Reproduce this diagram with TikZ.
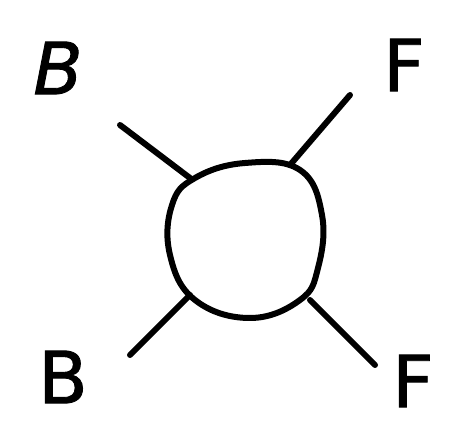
\documentclass[tikz,border=0pt]{standalone}
\usepackage{fontspec}
\setmainfont{DejaVu Sans}[FakeBold=1.2]
\tikzset{
  stroke/.style={line width=6pt, line cap=round, line join=round, black},
  lbl/.style={font=\fontsize{72}{72}\selectfont, inner sep=0pt}
}
\begin{document}
\begin{tikzpicture}[x=1pt,y=-1pt]
\useasboundingbox (0,0) rectangle (458,427);
% blob (vertex)
\draw[stroke] plot[smooth cycle, tension=0.7] coordinates {
  (195,178) (245,163) (300,170) (322,215) (318,268) (300,300) (250,318) (195,300) (170,255) (172,205)};
% legs
\coordinate (tlA) at (120,125); \coordinate (tlB) at (190,178);
\coordinate (trA) at (350,95);  \coordinate (trB) at (290,165);
\coordinate (blA) at (130,355); \coordinate (blB) at (190,295);
\coordinate (brA) at (375,365); \coordinate (brB) at (310,300);
\draw[stroke] (tlA) -- (tlB);
\draw[stroke] (trA) -- (trB);
\draw[stroke] (blA) -- (blB);
\draw[stroke] (brA) -- (brB);
% labels
\node[lbl] (b1) at (58,68) {\textit{B}};
\node[lbl] (f1) at (404,65) {F};
\node[lbl] (b2) at (63,377) {B};
\node[lbl] (f2) at (413,381) {F};
\end{tikzpicture}
\end{document}
